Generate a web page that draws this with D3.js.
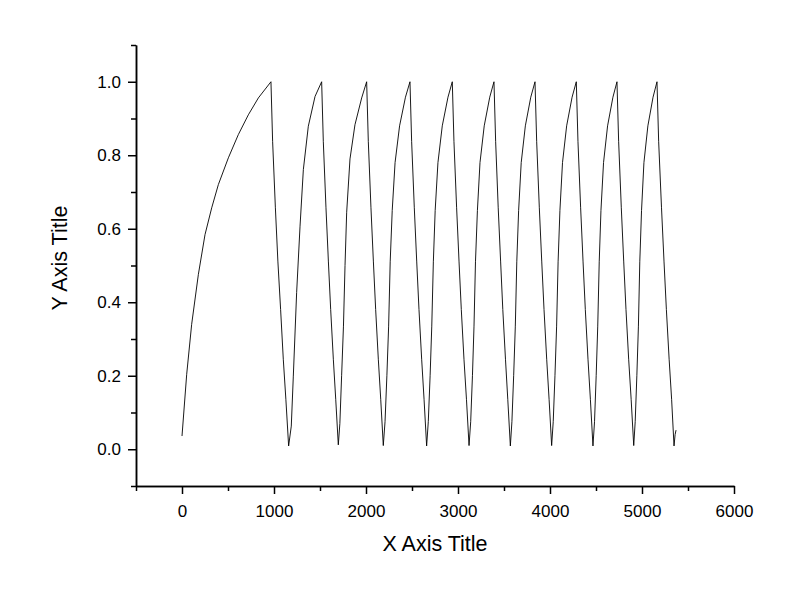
<!DOCTYPE html>
<html>
<head>
<meta charset="utf-8">
<script src="https://cdn.jsdelivr.net/npm/d3@7/dist/d3.min.js"></script>
<style>
  body { margin: 0; background: #fff; }
  svg { display: block; }
  .axis text { font-family: "Liberation Sans", Arial, sans-serif; font-size: 17px; fill: #000; }
  .axis path, .axis line { stroke: #000; stroke-width: 1.5; }
  .title { font-family: "Liberation Sans", Arial, sans-serif; font-size: 21.5px; fill: #000; }
</style>
</head>
<body>
<svg id="chart"></svg>
<script>
// tick values
var xMajor = [0, 1000, 2000, 3000, 4000, 5000, 6000];
var xMinor = [-500, 500, 1500, 2500, 3500, 4500, 5500];
var yMajor = [0.0, 0.2, 0.4, 0.6, 0.8, 1.0];
var yMinor = [-0.1, 0.1, 0.3, 0.5, 0.7, 0.9, 1.1];

// curve, [x, y]
var initialCharge = [[0,0.036],[51,0.204],[105,0.340],[178,0.476],[250,0.584],[323,0.657],
  [395,0.720],[504,0.793],[612,0.856],[721,0.910],[830,0.956],[967,1.0]];
var cycle1 = [[985,0.838],[1015,0.657],[1042,0.512],[1072,0.380],[1101,0.245],[1129,0.136],[1159,0.009],
  [1188,0.063],[1210,0.199],[1246,0.426],[1283,0.607],[1319,0.761],[1373,0.879],[1446,0.960],[1518,1.0]];
var cycle2 = [[1536,0.838],[1565,0.657],[1591,0.512],[1616,0.380],[1645,0.245],[1671,0.136],[1699,0.012],
  [1716,0.070],[1735,0.200],[1755,0.335],[1772,0.500],[1790,0.645],[1826,0.790],[1880,0.883],[1953,0.956],[2007,1.0]];
var cycle3 = [[2025,0.838],[2054,0.657],[2080,0.512],[2105,0.380],[2134,0.245],[2160,0.136],[2188,0.010],
  [2207,0.075],[2227,0.200],[2246,0.335],[2263,0.510],[2285,0.650],[2316,0.780],[2365,0.880],[2429,0.958],[2478,1.0]];
var cycle4 = [[2496,0.838],[2525,0.657],[2551,0.512],[2576,0.380],[2605,0.245],[2631,0.136],[2659,0.009],
  [2677,0.075],[2697,0.200],[2715,0.335],[2732,0.510],[2752,0.650],[2782,0.780],[2829,0.880],[2891,0.958],[2938,1.0]];
var cycle5 = [[2956,0.838],[2985,0.657],[3011,0.512],[3036,0.380],[3065,0.245],[3092,0.136],[3120,0.010],
  [3138,0.075],[3157,0.200],[3174,0.335],[3190,0.510],[3211,0.650],[3239,0.780],[3285,0.880],[3345,0.958],[3391,1.0]];
var cycle6 = [[3409,0.838],[3437,0.657],[3463,0.512],[3487,0.380],[3516,0.245],[3541,0.136],[3569,0.009],
  [3586,0.075],[3605,0.200],[3623,0.335],[3639,0.510],[3659,0.650],[3687,0.780],[3732,0.880],[3791,0.958],[3837,1.0]];
var cycle7 = [[3855,0.838],[3884,0.657],[3910,0.512],[3935,0.380],[3964,0.245],[3990,0.136],[4018,0.010],
  [4035,0.075],[4054,0.200],[4072,0.335],[4088,0.510],[4108,0.650],[4136,0.780],[4181,0.880],[4240,0.958],[4286,1.0]];
var cycle8 = [[4304,0.838],[4333,0.657],[4359,0.512],[4384,0.380],[4413,0.245],[4439,0.136],[4467,0.009],
  [4484,0.075],[4502,0.200],[4519,0.335],[4535,0.510],[4554,0.650],[4582,0.780],[4626,0.880],[4684,0.958],[4728,1.0]];
var cycle9 = [[4746,0.838],[4775,0.657],[4801,0.512],[4826,0.380],[4855,0.245],[4882,0.136],[4910,0.010],
  [4926,0.075],[4944,0.200],[4961,0.335],[4976,0.510],[4995,0.650],[5021,0.780],[5064,0.880],[5120,0.958],[5163,1.0]];
var cycle10 = [[5181,0.838],[5212,0.657],[5239,0.512],[5265,0.380],[5295,0.245],[5322,0.136],[5348,0.009],
  [5360,0.040],[5370,0.052]];

var data = [].concat(initialCharge, cycle1, cycle2, cycle3, cycle4, cycle5,
                     cycle6, cycle7, cycle8, cycle9, cycle10);

var margin = {top: 45, right: 66, bottom: 115, left: 136},
    width = 800 - margin.left - margin.right,
    height = 601 - margin.top - margin.bottom;

var svg = d3.select("#chart")
    .attr("width", width + margin.left + margin.right)
    .attr("height", height + margin.top + margin.bottom)
  .append("g")
    .attr("transform", "translate(" + margin.left + "," + margin.top + ")");

var x = d3.scaleLinear().domain([-500, 6000]).range([0, width]);
var y = d3.scaleLinear().domain([-0.1, 1.1]).range([height, 0]);

// minor ticks
svg.append("g")
    .attr("class", "axis")
    .attr("transform", "translate(0," + height + ")")
    .call(d3.axisBottom(x).tickValues(xMinor).tickSize(5).tickSizeOuter(0).tickFormat(""));
svg.append("g")
    .attr("class", "axis")
    .call(d3.axisLeft(y).tickValues(yMinor).tickSize(5).tickSizeOuter(0).tickFormat(""));

// major ticks + labels
svg.append("g")
    .attr("class", "axis")
    .attr("transform", "translate(0," + height + ")")
    .call(d3.axisBottom(x).tickValues(xMajor).tickSize(8).tickSizeOuter(0)
      .tickPadding(10.5).tickFormat(d3.format("d")));
svg.append("g")
    .attr("class", "axis")
    .call(d3.axisLeft(y).tickValues(yMajor).tickSize(8).tickSizeOuter(0)
      .tickPadding(7).tickFormat(d3.format(".1f")));

// the curve
var line = d3.line()
    .x(function(d) { return x(d[0]); })
    .y(function(d) { return y(d[1]); });

svg.append("path")
    .datum(data)
    .attr("fill", "none")
    .attr("stroke", "#000")
    .attr("stroke-width", 0.9)
    .attr("stroke-linejoin", "miter")
    .attr("d", line);

// axis titles
svg.append("text")
    .attr("class", "title")
    .attr("x", width / 2)
    .attr("y", 551 - margin.top)
    .style("text-anchor", "middle")
    .text("X Axis Title");

svg.append("text")
    .attr("class", "title")
    .attr("transform", "translate(" + (66.5 - margin.left) + "," + (258 - margin.top) + ") rotate(-90)")
    .style("text-anchor", "middle")
    .text("Y Axis Title");
</script>
</body>
</html>
